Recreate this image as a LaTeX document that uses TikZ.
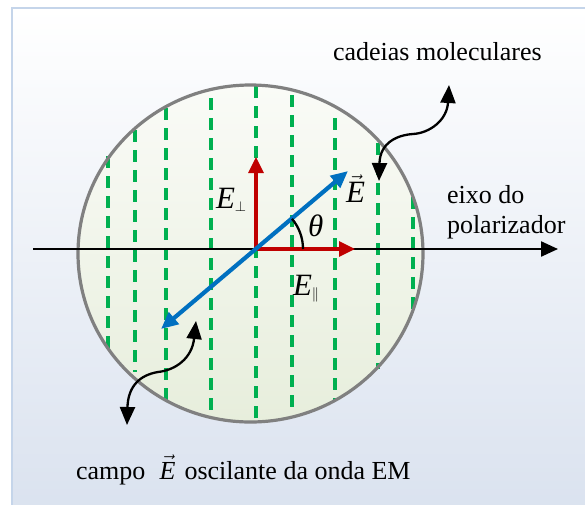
\documentclass[tikz,border=0pt]{standalone}
\usepackage{fontspec}
\setmainfont{Liberation Serif}
\usetikzlibrary{arrows.meta}
\begin{document}
\begin{tikzpicture}[x=1pt,y=-1pt,every node/.style={inner sep=0pt, outer sep=0pt, font=\fontsize{26}{30}\selectfont},
  lbl/.style={anchor=base west, font=\fontsize{31}{34}\selectfont},
  chain/.style={draw={rgb,255:red,0;green,176;blue,80}, line width=3.6pt, dash pattern=on 12pt off 8pt},
  comp/.style={draw={rgb,255:red,192;green,0;blue,0}, line width=3.2pt, -{Triangle[length=16pt,width=15pt]}},
  wave/.style={draw=black, line width=2.3pt, {Triangle[length=18pt,width=15pt]}-{Triangle[length=18pt,width=15pt]}}]
\useasboundingbox (0,0) rectangle (585,504);
\fill[white] (0,0) rectangle (585,504);
\shade[top color=white, middle color={rgb,255:red,240;green,243;blue,248}, bottom color={rgb,255:red,218;green,226;blue,239}, draw={rgb,255:red,197;green,213;blue,234}, line width=2.5pt] (12,8) rectangle (595,515);
\shade[top color={rgb,255:red,250;green,251;blue,247}, bottom color={rgb,255:red,231;green,238;blue,220}] (250.5,253.5) ellipse [x radius=172.5, y radius=168.5];
\foreach \x/\ya/\yb in {108/156/352, 135/130/372, 166/108/402, 211/98/410, 256/86/423, 292/95/409, 335/118/400, 378/143/369, 413/197/310}
  \draw[chain] (\x,\ya) -- (\x,\yb);
\draw[draw={rgb,255:red,128;green,128;blue,128}, line width=3.2pt] (250.5,253.5) ellipse [x radius=172.5, y radius=168.5];
\coordinate (O) at (256,249);
\coordinate (axL) at (33,249);
\coordinate (axR) at (558,249);
\coordinate (perp) at (256,157);
\coordinate (par) at (355,249);
\coordinate (Elo) at (161,329);
\coordinate (Ehi) at (348,171);
\draw[line width=2.3pt, -{Triangle[length=17pt,width=15pt]}] (axL) -- (axR);
\draw[comp] (O) -- (perp);
\draw[comp] (O) -- (par);
\draw[draw={rgb,255:red,0;green,112;blue,192}, line width=4.2pt, {Triangle[length=17pt,width=15pt]}-{Triangle[length=17pt,width=15pt]}] (Elo) -- (Ehi);
\draw[line width=2.3pt] ([xshift=47pt]O) arc[start angle=0, end angle=-40, radius=47];
\coordinate (a1) at (379,181);
\coordinate (a2) at (449,85);
\coordinate (b1) at (196,321);
\coordinate (b2) at (127,425);
\draw[wave] (a1) .. controls (380,142) and (398,135) .. (413,134) .. controls (430,133) and (447,120) .. (a2);
\draw[wave] (b1) .. controls (192,358) and (176,370) .. (158,372) .. controls (140,375) and (128,386) .. (b2);
\node[anchor=base west] (chains) at (333,60) {cadeias moleculares};
\node[anchor=north west, align=left] (axis) at (447,185) {eixo do\\polarizador};
\node[anchor=base west] (field) at (76,479) {campo\hspace{0.55em}$\vec{\textit{E}}$\hspace{0.1em} oscilante da onda EM};
\node[lbl] (Evec) at (346,202) {$\vec{\textit{E}}$};
\node[lbl] (Eperp) at (216,208) {\textit{E}$_{\scriptscriptstyle\perp}$};
\node[lbl] (theta) at (308,236) {\textit{θ}};
\node[lbl] (Epar) at (293,295) {\textit{E}$_{\scriptscriptstyle\|}$};
\end{tikzpicture}
\end{document}
